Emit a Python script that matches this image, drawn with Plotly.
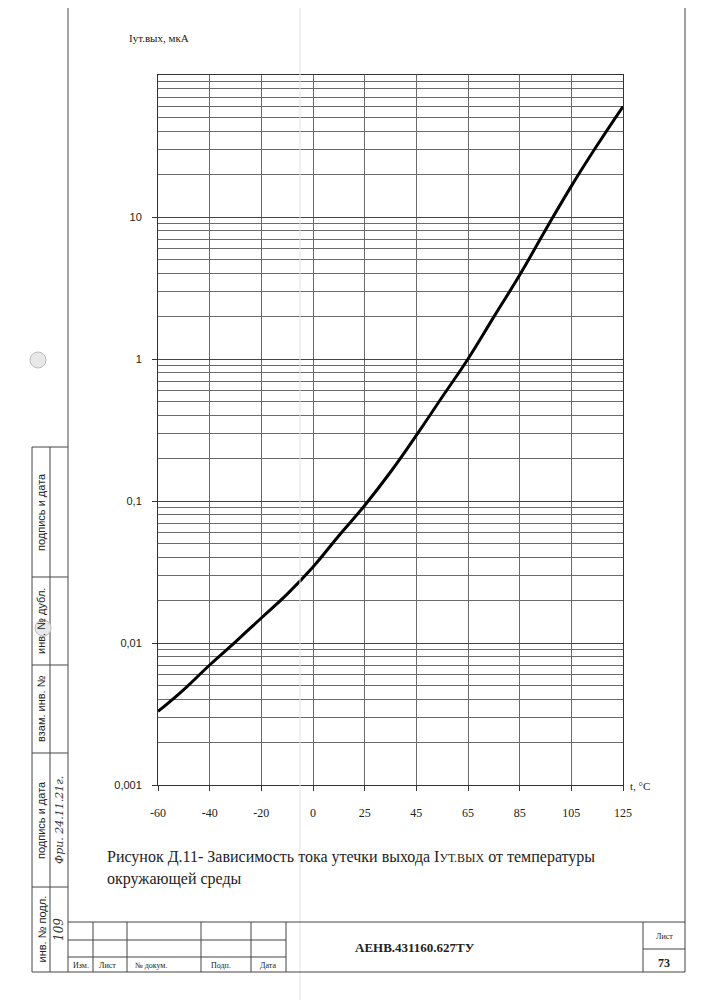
import numpy as np
import plotly.graph_objects as go

# ---- data ----
tick_temps = [-60, -40, -20, 0, 25, 45, 65, 85, 105, 125]
tick_labels = ["-60", "-40", "-20", "0", "25", "45", "65", "85", "105", "125"]
temps = [-60, -50, -40, -30, -20, -10, 0, 12.5, 25, 35, 45, 55, 65, 75, 85, 95, 105, 115, 125]
current = [0.0033, 0.0047, 0.0070, 0.0102, 0.0150, 0.0221, 0.0343, 0.057, 0.093, 0.16,
           0.29, 0.54, 1.0, 1.98, 3.9, 8.1, 16.5, 32, 60]
y_decades = [0.001, 0.01, 0.1, 1, 10]
y_labels = ["0,001", "0,01", "0,1", "1", "10"]

OFF = 8                      # page body margin of the browser
W, H = 707 - OFF, 1000 - OFF
L, R, T, B = 158, 623, 75, 785   # plot area in page pixels

def px(x):
    return (x - L) / (R - L)

def py(y):
    return (B - y) / (B - T)

# the x axis of the original is evenly spaced by grid line, not by temperature
x_pos = np.interp(temps, tick_temps, np.arange(len(tick_temps)))

minor_vals = [m * 10.0 ** e for e in range(-3, 2) for m in range(2, 10)]

SERIF = "Liberation Serif, Times New Roman, serif"
SANS = "Liberation Sans, Arial, sans-serif"

fig = go.Figure()
fig.add_trace(go.Scatter(x=x_pos, y=current, mode="lines",
                         line=dict(color="black", width=3, shape="spline", smoothing=1.3),
                         hoverinfo="skip", showlegend=False))

grid_col = "#6b6b6b"
fig.update_layout(
    width=W, height=H,
    margin=dict(l=L - OFF, r=(W + OFF) - R, t=T - OFF, b=(H + OFF) - B),
    paper_bgcolor="white", plot_bgcolor="white",
    xaxis=dict(range=[0, len(tick_temps) - 1], tickmode="array",
               tickvals=list(range(len(tick_temps))), ticktext=tick_labels,
               showgrid=True, gridcolor=grid_col, gridwidth=1,
               ticks="outside", ticklen=5, tickcolor="#333",
               ticklabelstandoff=12,
               tickfont=dict(family=SERIF, size=12, color="#222"),
               showline=True, linecolor="#333", linewidth=1, mirror=True, zeroline=False),
    yaxis=dict(type="log", range=[-3, 2], tickmode="array",
               tickvals=y_decades, ticktext=y_labels,
               showgrid=True, gridcolor="#444", gridwidth=1,
               ticks="outside", ticklen=5, tickcolor="#333",
               ticklabelstandoff=8,
               tickfont=dict(family=SANS, size=11, color="#222"),
               minor=dict(tickmode="array", tickvals=minor_vals, showgrid=True,
                          gridcolor=grid_col, gridwidth=1, ticks=""),
               showline=True, linecolor="#333", linewidth=1, mirror=True, zeroline=False),
)

shapes = []
def line(x0, y0, x1, y1, color="#444", width=1):
    shapes.append(dict(type="line", xref="paper", yref="paper",
                       x0=px(x0), y0=py(y0), x1=px(x1), y1=py(y1),
                       line=dict(color=color, width=width), layer="above"))

# faint scan fold
line(300, 8, 300, 1000, color="#e2e2e2", width=1)
# page frame
line(68, 8, 68, 972)
line(685, 8, 685, 972)
line(32, 972, 685, 972)
# stamp column
line(32, 447, 32, 972)
line(50, 447, 50, 972)
line(32, 447, 68, 447)
for yy in [577, 665, 753, 887]:
    line(32, yy, 68, yy)
# title block
line(68, 922, 685, 922)
line(68, 940, 286, 940)
line(68, 957, 286, 957)
for xx in [93, 127, 201, 251, 286]:
    line(xx, 922, xx, 972)
line(643, 922, 643, 972)
line(643, 949, 685, 949)
# punch holes
for cx, cy in [(38, 360), (43, 628)]:
    shapes.append(dict(type="circle", xref="paper", yref="paper",
                       x0=px(cx - 8), x1=px(cx + 8), y0=py(cy + 8), y1=py(cy - 8),
                       fillcolor="#e8e8e8", line=dict(color="#bdbdbd", width=1), layer="above"))
fig.update_layout(shapes=shapes)

ann = []
def text(x, y, s, size=11, family=SERIF, xanchor="left", angle=0,
         color="#222", style="normal", weight="normal"):
    ann.append(dict(x=px(x), y=py(y), xref="paper", yref="paper", text=s, showarrow=False,
                    xanchor=xanchor, yanchor="middle", textangle=angle,
                    font=dict(size=size, family=family, color=color, style=style, weight=weight)))

text(127, 38, "Iут.вых, мкА", size=11)
text(628, 786, "t, °C", size=11)
text(105, 857, "Рисунок Д.11- Зависимость тока утечки выхода I<span style='font-size:12px'>УТ.ВЫХ</span> от температуры", size=16)
text(105, 879, "окружающей среды", size=16)
text(415, 948, "АЕНВ.431160.627ТУ", size=13, xanchor="center", weight="bold")
text(664, 936, "Лист", size=8, xanchor="center")
text(664, 963, "73", size=12, xanchor="center", weight="bold")
text(71, 966, "Изм.", size=8)
text(97, 966, "Лист", size=8)
text(133, 966, "№ докум.", size=8)
text(209, 966, "Подп.", size=8)
text(258, 966, "Дата", size=8)
# stamp column labels (rotated)
for (y0, y1, s) in [(447, 577, "подпись и дата"), (577, 665, "инв. № дубл."),
                    (665, 753, "взам. инв. №"), (753, 887, "подпись и дата"),
                    (887, 972, "инв. № подл.")]:
    text(41, (y0 + y1) / 2, s, size=11, family=SANS, xanchor="center", angle=-90)
text(59, 820, "Фри. 24.11.21г.", size=11, family="DejaVu Serif", xanchor="center",
     angle=-90, style="italic", color="#333")
text(59, 930, "109", size=12, family="DejaVu Serif", xanchor="center",
     angle=-90, style="italic", color="#333")
fig.update_layout(annotations=ann)

fig.write_html("out.html")
